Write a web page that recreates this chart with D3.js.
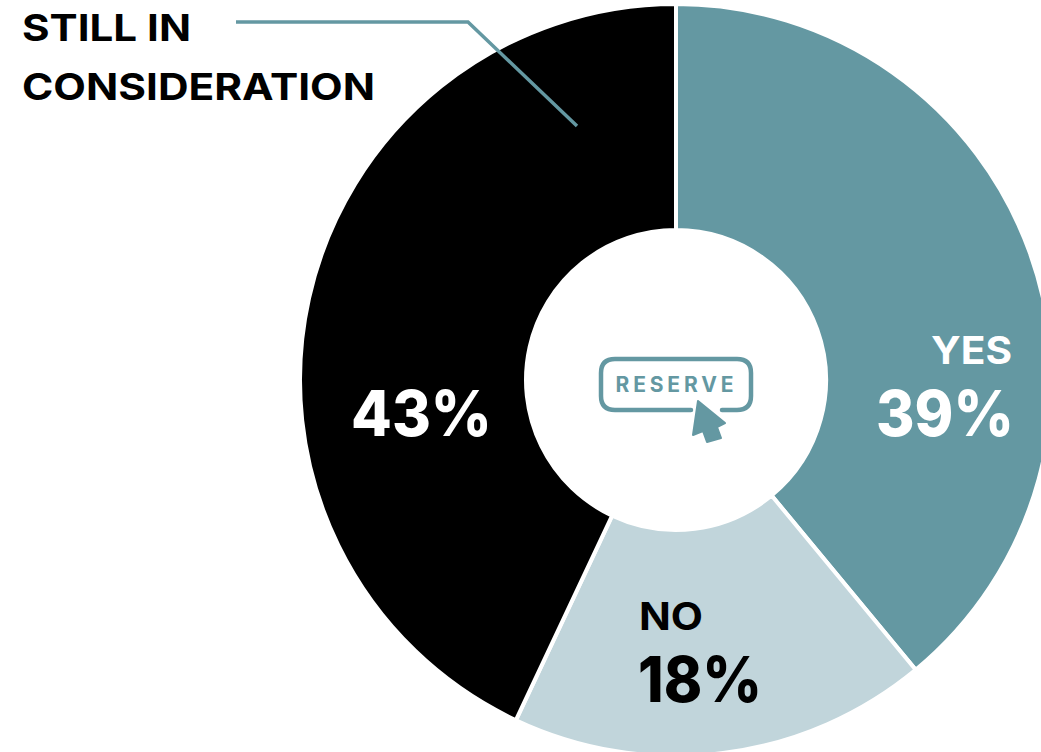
<!DOCTYPE html>
<html lang="en">
<head>
<meta charset="UTF-8">
<title>Reserve donut</title>
<script src="https://d3js.org/d3.v7.min.js"></script>
<style>
html, body { margin: 0; padding: 0; background: #fff; }
svg { display: block; }
text { font-family: Inter, "Open Sans", sans-serif; font-weight: 800; }
</style>
</head>
<body>
<script>
// ================== DATA ==================
var categories = ["YES", "NO", "STILL IN CONSIDERATION"];
var values = [39, 18, 43];
var sliceColors = ["#6498a2", "#c1d5db", "#000000"];

// ================== INIT SVG ==================
var w = 1041, h = 752;
var cx = 676, cy = 380;
var outerRadius = 376, innerRadius = 150;
var teal = sliceColors[0];

var svg = d3.select("body").append("svg")
    .attr("width", w)
    .attr("height", h);

// ================== DONUT ==================
var pie = d3.pie().sort(null).value(function(d){ return d; });
var arc = d3.arc().innerRadius(innerRadius).outerRadius(outerRadius);

var chart = svg.append("g")
    .attr("transform", "translate(" + cx + "," + cy + ")");

chart.selectAll(".slice")
    .data(pie(values))
    .enter()
    .append("path")
    .classed("slice", true)
    .attr("d", arc)
    .attr("fill", function(d, i){ return sliceColors[i]; })
    .attr("stroke", "#fff")
    .attr("stroke-width", 4);

// ================== LABELS ==================
// x is the left edge of the text, y the baseline
function label(str, x, y, size, color, width, weight){
    var t = svg.append("text")
        .attr("x", x)
        .attr("y", y)
        .attr("font-size", size)
        .attr("fill", color)
        .text(str);
    if (width) t.attr("textLength", width).attr("lengthAdjust", "spacingAndGlyphs");
    if (weight) t.style("font-weight", weight);
    return t;
}

label(categories[0], 931, 364, 38, "#fff", 81, 700);
label(values[0] + "%", 876, 436, 63, "#fff", 138);
label(categories[1], 639, 630, 38, "#000", 64, 700);
label(values[1] + "%", 638, 702, 63, "#000", 124);
label(values[2] + "%", 351, 436, 63, "#fff", 141);
label("STILL IN", 22, 41, 37, "#000", 169, 700);
label("CONSIDERATION", 22, 100, 37, "#000", 353, 700);

// ================== LEADER LINE ==================
svg.append("path")
    .attr("d", d3.line()([[236, 22], [468, 22], [577, 126]]))
    .attr("fill", "none")
    .attr("stroke", teal)
    .attr("stroke-width", 3.5);

// ================== RESERVE BUTTON ICON ==================
var icon = svg.append("g");

icon.append("path")
    .attr("d", "M691,410 L615,410 Q601,410 601,396 L601,373 Q601,359 615,359 L737,359 Q751,359 751,373 L751,396 Q751,410 737,410 L722,410")
    .attr("fill", "none")
    .attr("stroke", teal)
    .attr("stroke-width", 4.5)
    .attr("stroke-linecap", "round");

icon.append("text")
    .attr("x", 615.5)
    .attr("y", 392)
    .attr("font-size", 21)
    .attr("fill", teal)
    .style("font-weight", 700)
    .attr("textLength", 118)
    .attr("lengthAdjust", "spacing")
    .text("RESERVE");

icon.append("path")
    .attr("d", "M698,401 L725,423 L717,427 L721,438 L707,442 L703,431 L693,435 Z")
    .attr("fill", teal)
    .attr("stroke", teal)
    .attr("stroke-width", 2)
    .attr("stroke-linejoin", "round");
</script>
</body>
</html>
